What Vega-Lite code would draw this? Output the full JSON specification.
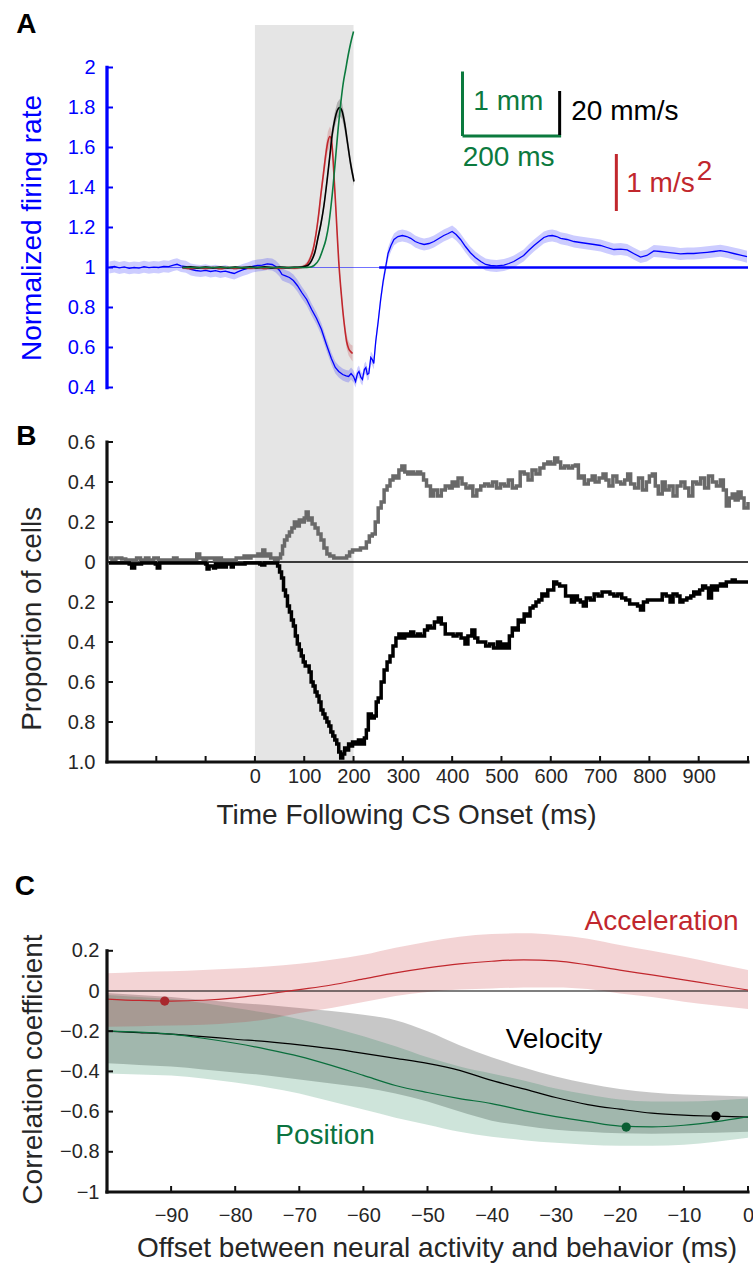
{
  "$schema": "https://vega.github.io/schema/vega-lite/v6.json",
  "width": 641,
  "height": 1167,
  "autosize": {"type": "none"},
  "padding": {"left": 107, "top": 25, "right": 5, "bottom": 72},
  "background": "white",
  "config": {
    "view": {"stroke": null},
    "font": "Liberation Sans",
    "axis": {
      "grid": false, "domain": false, "tickSize": 0,
      "labelFont": "Liberation Sans", "labelFontSize": 20, "labelColor": "#262626",
      "titleFont": "Liberation Sans", "titleFontSize": 28, "titleFontWeight": "normal",
      "titleColor": "#262626", "titleAlign": "center", "titleBaseline": "alphabetic"
    }
  },
  "datasets": {
    "firingRate": [
      {"t":-295,"v":1.000,"lo":0.970,"hi":1.030},{"t":-285,"v":1.005,"lo":0.975,"hi":1.035},{"t":-275,"v":0.998,"lo":0.968,"hi":1.028},
      {"t":-265,"v":1.003,"lo":0.973,"hi":1.033},{"t":-255,"v":0.996,"lo":0.966,"hi":1.026},{"t":-245,"v":1.000,"lo":0.970,"hi":1.030},
      {"t":-235,"v":0.997,"lo":0.967,"hi":1.027},{"t":-225,"v":1.004,"lo":0.974,"hi":1.034},{"t":-215,"v":0.999,"lo":0.969,"hi":1.029},
      {"t":-205,"v":1.002,"lo":0.972,"hi":1.032},{"t":-195,"v":1.000,"lo":0.970,"hi":1.030},{"t":-185,"v":1.006,"lo":0.976,"hi":1.036},
      {"t":-175,"v":1.004,"lo":0.974,"hi":1.034},{"t":-165,"v":1.012,"lo":0.982,"hi":1.042},{"t":-158,"v":1.016,"lo":0.986,"hi":1.046},
      {"t":-150,"v":1.008,"lo":0.978,"hi":1.038},{"t":-140,"v":1.004,"lo":0.974,"hi":1.034},{"t":-130,"v":0.990,"lo":0.960,"hi":1.020},
      {"t":-120,"v":0.985,"lo":0.955,"hi":1.015},{"t":-110,"v":0.982,"lo":0.952,"hi":1.012},{"t":-100,"v":0.986,"lo":0.956,"hi":1.016},
      {"t":-90,"v":0.980,"lo":0.950,"hi":1.010},{"t":-80,"v":0.984,"lo":0.954,"hi":1.014},{"t":-70,"v":0.978,"lo":0.948,"hi":1.008},
      {"t":-60,"v":0.982,"lo":0.952,"hi":1.012},{"t":-50,"v":0.975,"lo":0.945,"hi":1.005},{"t":-42,"v":0.970,"lo":0.940,"hi":1.000},
      {"t":-35,"v":0.978,"lo":0.948,"hi":1.008},{"t":-25,"v":0.988,"lo":0.958,"hi":1.018},{"t":-15,"v":0.995,"lo":0.965,"hi":1.025},
      {"t":-5,"v":1.005,"lo":0.975,"hi":1.035},{"t":5,"v":1.010,"lo":0.980,"hi":1.040},{"t":15,"v":1.012,"lo":0.982,"hi":1.042},
      {"t":25,"v":1.018,"lo":0.988,"hi":1.048},{"t":35,"v":1.015,"lo":0.985,"hi":1.045},{"t":42,"v":1.005,"lo":0.975,"hi":1.035},
      {"t":50,"v":0.985,"lo":0.955,"hi":1.015},{"t":55,"v":0.965,"lo":0.935,"hi":0.995},{"t":62,"v":0.958,"lo":0.928,"hi":0.988},
      {"t":70,"v":0.950,"lo":0.920,"hi":0.980},{"t":78,"v":0.935,"lo":0.905,"hi":0.965},{"t":86,"v":0.910,"lo":0.880,"hi":0.940},
      {"t":95,"v":0.875,"lo":0.845,"hi":0.905},{"t":105,"v":0.840,"lo":0.810,"hi":0.870},{"t":115,"v":0.790,"lo":0.760,"hi":0.820},
      {"t":125,"v":0.745,"lo":0.715,"hi":0.775},{"t":135,"v":0.690,"lo":0.660,"hi":0.720},{"t":145,"v":0.615,"lo":0.585,"hi":0.645},
      {"t":155,"v":0.545,"lo":0.515,"hi":0.575},{"t":163,"v":0.500,"lo":0.470,"hi":0.530},{"t":170,"v":0.480,"lo":0.450,"hi":0.510},
      {"t":178,"v":0.465,"lo":0.435,"hi":0.495},{"t":185,"v":0.458,"lo":0.428,"hi":0.488},{"t":190,"v":0.455,"lo":0.425,"hi":0.485},
      {"t":195,"v":0.470,"lo":0.440,"hi":0.500},{"t":200,"v":0.455,"lo":0.425,"hi":0.485},{"t":204,"v":0.430,"lo":0.400,"hi":0.460},
      {"t":208,"v":0.470,"lo":0.440,"hi":0.500},{"t":211,"v":0.480,"lo":0.450,"hi":0.510},{"t":215,"v":0.450,"lo":0.420,"hi":0.480},
      {"t":218,"v":0.440,"lo":0.410,"hi":0.470},{"t":222,"v":0.490,"lo":0.460,"hi":0.520},{"t":225,"v":0.500,"lo":0.470,"hi":0.530},
      {"t":228,"v":0.465,"lo":0.435,"hi":0.495},{"t":231,"v":0.470,"lo":0.440,"hi":0.500},{"t":235,"v":0.550,"lo":0.520,"hi":0.580},
      {"t":238,"v":0.540,"lo":0.510,"hi":0.570},{"t":241,"v":0.520,"lo":0.490,"hi":0.550},{"t":245,"v":0.630,"lo":0.600,"hi":0.660},
      {"t":250,"v":0.730,"lo":0.700,"hi":0.760},{"t":255,"v":0.840,"lo":0.810,"hi":0.870},{"t":260,"v":0.930,"lo":0.900,"hi":0.960},
      {"t":265,"v":1.000,"lo":0.970,"hi":1.030},{"t":270,"v":1.070,"lo":1.040,"hi":1.100},{"t":276,"v":1.110,"lo":1.080,"hi":1.140},
      {"t":282,"v":1.140,"lo":1.110,"hi":1.170},{"t":290,"v":1.155,"lo":1.125,"hi":1.185},{"t":299,"v":1.160,"lo":1.130,"hi":1.190},
      {"t":308,"v":1.155,"lo":1.125,"hi":1.185},{"t":316,"v":1.146,"lo":1.116,"hi":1.176},{"t":325,"v":1.130,"lo":1.100,"hi":1.160},
      {"t":335,"v":1.120,"lo":1.090,"hi":1.150},{"t":343,"v":1.115,"lo":1.085,"hi":1.145},{"t":353,"v":1.120,"lo":1.090,"hi":1.150},
      {"t":363,"v":1.130,"lo":1.100,"hi":1.160},{"t":373,"v":1.145,"lo":1.115,"hi":1.175},{"t":383,"v":1.160,"lo":1.130,"hi":1.190},
      {"t":392,"v":1.170,"lo":1.140,"hi":1.200},{"t":400,"v":1.180,"lo":1.150,"hi":1.210},{"t":408,"v":1.165,"lo":1.135,"hi":1.195},
      {"t":417,"v":1.140,"lo":1.110,"hi":1.170},{"t":427,"v":1.105,"lo":1.075,"hi":1.135},{"t":437,"v":1.074,"lo":1.044,"hi":1.104},
      {"t":447,"v":1.050,"lo":1.020,"hi":1.080},{"t":458,"v":1.030,"lo":1.000,"hi":1.060},{"t":468,"v":1.015,"lo":0.985,"hi":1.045},
      {"t":478,"v":1.010,"lo":0.980,"hi":1.040},{"t":490,"v":1.008,"lo":0.978,"hi":1.038},{"t":505,"v":1.012,"lo":0.982,"hi":1.042},
      {"t":515,"v":1.020,"lo":0.990,"hi":1.050},{"t":525,"v":1.030,"lo":1.000,"hi":1.060},{"t":535,"v":1.045,"lo":1.015,"hi":1.075},
      {"t":545,"v":1.060,"lo":1.030,"hi":1.090},{"t":555,"v":1.085,"lo":1.055,"hi":1.115},{"t":566,"v":1.110,"lo":1.080,"hi":1.140},
      {"t":576,"v":1.130,"lo":1.100,"hi":1.160},{"t":586,"v":1.150,"lo":1.120,"hi":1.180},{"t":595,"v":1.158,"lo":1.128,"hi":1.188},
      {"t":603,"v":1.160,"lo":1.130,"hi":1.190},{"t":612,"v":1.155,"lo":1.125,"hi":1.185},{"t":620,"v":1.146,"lo":1.116,"hi":1.176},
      {"t":633,"v":1.140,"lo":1.110,"hi":1.170},{"t":647,"v":1.130,"lo":1.100,"hi":1.160},{"t":660,"v":1.125,"lo":1.095,"hi":1.155},
      {"t":674,"v":1.120,"lo":1.090,"hi":1.150},{"t":688,"v":1.115,"lo":1.085,"hi":1.145},{"t":701,"v":1.110,"lo":1.080,"hi":1.140},
      {"t":714,"v":1.100,"lo":1.070,"hi":1.130},{"t":728,"v":1.090,"lo":1.060,"hi":1.120},{"t":742,"v":1.092,"lo":1.062,"hi":1.122},
      {"t":755,"v":1.088,"lo":1.058,"hi":1.118},{"t":768,"v":1.070,"lo":1.040,"hi":1.100},{"t":782,"v":1.052,"lo":1.022,"hi":1.082},
      {"t":795,"v":1.060,"lo":1.030,"hi":1.090},{"t":809,"v":1.083,"lo":1.053,"hi":1.113},{"t":822,"v":1.080,"lo":1.050,"hi":1.110},
      {"t":836,"v":1.076,"lo":1.046,"hi":1.106},{"t":850,"v":1.072,"lo":1.042,"hi":1.102},{"t":863,"v":1.068,"lo":1.038,"hi":1.098},
      {"t":877,"v":1.070,"lo":1.040,"hi":1.100},{"t":890,"v":1.070,"lo":1.040,"hi":1.100},{"t":904,"v":1.073,"lo":1.043,"hi":1.103},
      {"t":917,"v":1.076,"lo":1.046,"hi":1.106},{"t":931,"v":1.080,"lo":1.050,"hi":1.110},{"t":944,"v":1.084,"lo":1.054,"hi":1.114},
      {"t":958,"v":1.078,"lo":1.048,"hi":1.108},{"t":971,"v":1.070,"lo":1.040,"hi":1.100},{"t":985,"v":1.062,"lo":1.032,"hi":1.092},
      {"t":998,"v":1.054,"lo":1.024,"hi":1.084}
    ],
    "kinematics": [
      {"series":"acceleration","t":-147,"v":1.000,"lo":0.992,"hi":1.008},{"series":"acceleration","t":-130,"v":0.994,"lo":0.986,"hi":1.002},
      {"series":"acceleration","t":-115,"v":1.000,"lo":0.992,"hi":1.008},{"series":"acceleration","t":-100,"v":0.995,"lo":0.987,"hi":1.003},
      {"series":"acceleration","t":-85,"v":1.000,"lo":0.992,"hi":1.008},{"series":"acceleration","t":-70,"v":0.994,"lo":0.986,"hi":1.002},
      {"series":"acceleration","t":-55,"v":1.000,"lo":0.992,"hi":1.008},{"series":"acceleration","t":-40,"v":0.995,"lo":0.987,"hi":1.003},
      {"series":"acceleration","t":-25,"v":1.000,"lo":0.992,"hi":1.008},{"series":"acceleration","t":-10,"v":0.996,"lo":0.988,"hi":1.004},
      {"series":"acceleration","t":5,"v":1.000,"lo":0.992,"hi":1.008},{"series":"acceleration","t":20,"v":0.995,"lo":0.987,"hi":1.003},
      {"series":"acceleration","t":35,"v":1.000,"lo":0.992,"hi":1.008},{"series":"acceleration","t":50,"v":0.996,"lo":0.988,"hi":1.004},
      {"series":"acceleration","t":65,"v":1.000,"lo":0.992,"hi":1.008},{"series":"acceleration","t":80,"v":0.997,"lo":0.989,"hi":1.005},
      {"series":"acceleration","t":92,"v":1.000,"lo":0.992,"hi":1.008},{"series":"acceleration","t":100,"v":1.006,"lo":0.996,"hi":1.016},
      {"series":"acceleration","t":106,"v":1.018,"lo":1.006,"hi":1.030},{"series":"acceleration","t":112,"v":1.045,"lo":1.030,"hi":1.060},
      {"series":"acceleration","t":118,"v":1.090,"lo":1.070,"hi":1.110},{"series":"acceleration","t":124,"v":1.170,"lo":1.150,"hi":1.190},
      {"series":"acceleration","t":129,"v":1.260,"lo":1.235,"hi":1.285},{"series":"acceleration","t":134,"v":1.370,"lo":1.340,"hi":1.400},
      {"series":"acceleration","t":139,"v":1.470,"lo":1.435,"hi":1.505},{"series":"acceleration","t":144,"v":1.570,"lo":1.525,"hi":1.615},
      {"series":"acceleration","t":148,"v":1.630,"lo":1.580,"hi":1.680},{"series":"acceleration","t":152,"v":1.655,"lo":1.605,"hi":1.705},
      {"series":"acceleration","t":155,"v":1.640,"lo":1.590,"hi":1.690},{"series":"acceleration","t":158,"v":1.560,"lo":1.515,"hi":1.605},
      {"series":"acceleration","t":161,"v":1.430,"lo":1.395,"hi":1.465},{"series":"acceleration","t":164,"v":1.300,"lo":1.270,"hi":1.330},
      {"series":"acceleration","t":167,"v":1.160,"lo":1.135,"hi":1.185},{"series":"acceleration","t":170,"v":1.030,"lo":1.005,"hi":1.055},
      {"series":"acceleration","t":174,"v":0.900,"lo":0.875,"hi":0.925},{"series":"acceleration","t":178,"v":0.790,"lo":0.765,"hi":0.815},
      {"series":"acceleration","t":182,"v":0.700,"lo":0.670,"hi":0.730},{"series":"acceleration","t":186,"v":0.630,"lo":0.595,"hi":0.665},
      {"series":"acceleration","t":190,"v":0.595,"lo":0.560,"hi":0.630},{"series":"acceleration","t":194,"v":0.580,"lo":0.545,"hi":0.615},
      {"series":"acceleration","t":198,"v":0.570,"lo":0.530,"hi":0.610},
      {"series":"velocity","t":-147,"v":1.000,"lo":0.994,"hi":1.006},{"series":"velocity","t":-130,"v":1.003,"lo":0.997,"hi":1.009},
      {"series":"velocity","t":-115,"v":0.998,"lo":0.992,"hi":1.004},{"series":"velocity","t":-100,"v":1.002,"lo":0.996,"hi":1.008},
      {"series":"velocity","t":-85,"v":0.998,"lo":0.992,"hi":1.004},{"series":"velocity","t":-70,"v":1.002,"lo":0.996,"hi":1.008},
      {"series":"velocity","t":-55,"v":0.998,"lo":0.992,"hi":1.004},{"series":"velocity","t":-40,"v":1.002,"lo":0.996,"hi":1.008},
      {"series":"velocity","t":-25,"v":0.998,"lo":0.992,"hi":1.004},{"series":"velocity","t":-10,"v":1.003,"lo":0.997,"hi":1.009},
      {"series":"velocity","t":5,"v":0.999,"lo":0.993,"hi":1.005},{"series":"velocity","t":20,"v":1.003,"lo":0.997,"hi":1.009},
      {"series":"velocity","t":35,"v":0.998,"lo":0.992,"hi":1.004},{"series":"velocity","t":50,"v":1.002,"lo":0.996,"hi":1.008},
      {"series":"velocity","t":65,"v":0.999,"lo":0.993,"hi":1.005},{"series":"velocity","t":80,"v":1.001,"lo":0.995,"hi":1.007},
      {"series":"velocity","t":95,"v":1.002,"lo":0.996,"hi":1.008},{"series":"velocity","t":102,"v":1.006,"lo":0.998,"hi":1.014},
      {"series":"velocity","t":108,"v":1.012,"lo":1.002,"hi":1.022},{"series":"velocity","t":115,"v":1.035,"lo":1.022,"hi":1.048},
      {"series":"velocity","t":122,"v":1.080,"lo":1.065,"hi":1.095},{"series":"velocity","t":128,"v":1.150,"lo":1.133,"hi":1.167},
      {"series":"velocity","t":134,"v":1.220,"lo":1.200,"hi":1.240},{"series":"velocity","t":140,"v":1.310,"lo":1.288,"hi":1.332},
      {"series":"velocity","t":147,"v":1.450,"lo":1.425,"hi":1.475},{"series":"velocity","t":152,"v":1.560,"lo":1.532,"hi":1.588},
      {"series":"velocity","t":157,"v":1.670,"lo":1.638,"hi":1.702},{"series":"velocity","t":162,"v":1.740,"lo":1.703,"hi":1.777},
      {"series":"velocity","t":167,"v":1.785,"lo":1.745,"hi":1.825},{"series":"velocity","t":172,"v":1.800,"lo":1.758,"hi":1.842},
      {"series":"velocity","t":177,"v":1.780,"lo":1.740,"hi":1.820},{"series":"velocity","t":182,"v":1.720,"lo":1.682,"hi":1.758},
      {"series":"velocity","t":188,"v":1.620,"lo":1.588,"hi":1.652},{"series":"velocity","t":194,"v":1.520,"lo":1.492,"hi":1.548},
      {"series":"velocity","t":201,"v":1.430,"lo":1.405,"hi":1.455},
      {"series":"position","t":-147,"v":1.000,"lo":0.996,"hi":1.004},{"series":"position","t":-100,"v":1.000,"lo":0.996,"hi":1.004},
      {"series":"position","t":-50,"v":1.000,"lo":0.996,"hi":1.004},{"series":"position","t":0,"v":1.000,"lo":0.996,"hi":1.004},
      {"series":"position","t":50,"v":1.000,"lo":0.996,"hi":1.004},{"series":"position","t":100,"v":1.000,"lo":0.996,"hi":1.004},
      {"series":"position","t":110,"v":1.001,"lo":0.997,"hi":1.005},{"series":"position","t":120,"v":1.010,"lo":1.006,"hi":1.014},
      {"series":"position","t":130,"v":1.040,"lo":1.036,"hi":1.044},{"series":"position","t":137,"v":1.085,"lo":1.081,"hi":1.089},
      {"series":"position","t":144,"v":1.140,"lo":1.136,"hi":1.144},{"series":"position","t":150,"v":1.220,"lo":1.216,"hi":1.224},
      {"series":"position","t":154,"v":1.300,"lo":1.296,"hi":1.304},{"series":"position","t":159,"v":1.420,"lo":1.416,"hi":1.424},
      {"series":"position","t":164,"v":1.560,"lo":1.556,"hi":1.564},{"series":"position","t":169,"v":1.700,"lo":1.696,"hi":1.704},
      {"series":"position","t":174,"v":1.820,"lo":1.816,"hi":1.824},{"series":"position","t":179,"v":1.920,"lo":1.916,"hi":1.924},
      {"series":"position","t":184,"v":1.990,"lo":1.986,"hi":1.994},{"series":"position","t":189,"v":2.060,"lo":2.056,"hi":2.064},
      {"series":"position","t":194,"v":2.120,"lo":2.116,"hi":2.124},{"series":"position","t":200,"v":2.180,"lo":2.176,"hi":2.184}
    ],
    "scaleBars": [
      {"series":"position","t":421,"t2":421,"v":1.6575,"v2":1.98},
      {"series":"time","t":421,"t2":621,"v":1.6575,"v2":1.6575},
      {"series":"velocity","t":618,"t2":618,"v":1.6625,"v2":1.8825},
      {"series":"acceleration","t":733,"t2":733,"v":1.2825,"v2":1.5675}
    ],
    "scaleLabels": [
      {"label":"1 mm","series":"position","t":443,"v":1.7875},
      {"label":"20 mm/s","series":"velocity","t":641.5,"v":1.7375},
      {"label":"200 ms","series":"time","t":421.3,"v":1.509},
      {"label":"1 m/s","series":"acceleration","t":753,"v":1.379},
      {"label":"2","series":"acceleration","t":896,"v":1.4375}
    ],
    "positiveCells": [
      {"t":-296,"v":0.02},{"t":-290,"v":0.01},{"t":-282,"v":0.02},{"t":-270,"v":0.015},{"t":-262,"v":0.01},{"t":-250,"v":0.01},
      {"t":-240,"v":0.02},{"t":-232,"v":0.01},{"t":-222,"v":0.02},{"t":-215,"v":0.01},{"t":-205,"v":0.02},{"t":-196,"v":0.01},
      {"t":-185,"v":0.01},{"t":-175,"v":0.01},{"t":-165,"v":0.02},{"t":-158,"v":0.01},{"t":-140,"v":0.01},{"t":-125,"v":0.01},
      {"t":-118,"v":0.04},{"t":-112,"v":0.02},{"t":-105,"v":0.01},{"t":-98,"v":0.02},{"t":-90,"v":0.02},{"t":-82,"v":0.01},
      {"t":-75,"v":0.02},{"t":-68,"v":0.01},{"t":-55,"v":0.01},{"t":-45,"v":0.01},{"t":-38,"v":0.02},{"t":-30,"v":0.02},
      {"t":-22,"v":0.03},{"t":-15,"v":0.02},{"t":-8,"v":0.03},{"t":0,"v":0.03},{"t":6,"v":0.04},{"t":12,"v":0.03},
      {"t":16,"v":0.06},{"t":20,"v":0.03},{"t":26,"v":0.04},{"t":32,"v":0.02},{"t":40,"v":0.01},{"t":47,"v":0.02},
      {"t":52,"v":0.04},{"t":56,"v":0.08},{"t":60,"v":0.11},{"t":65,"v":0.13},{"t":70,"v":0.15},{"t":75,"v":0.17},
      {"t":80,"v":0.2},{"t":85,"v":0.18},{"t":90,"v":0.21},{"t":95,"v":0.2},{"t":100,"v":0.22},{"t":104,"v":0.25},
      {"t":108,"v":0.21},{"t":112,"v":0.22},{"t":116,"v":0.19},{"t":122,"v":0.17},{"t":128,"v":0.14},{"t":134,"v":0.11},
      {"t":140,"v":0.07},{"t":146,"v":0.04},{"t":152,"v":0.03},{"t":160,"v":0.02},{"t":170,"v":0.02},{"t":180,"v":0.02},
      {"t":186,"v":0.03},{"t":192,"v":0.05},{"t":198,"v":0.06},{"t":206,"v":0.06},{"t":214,"v":0.07},{"t":220,"v":0.07},
      {"t":226,"v":0.1},{"t":232,"v":0.13},{"t":238,"v":0.14},{"t":244,"v":0.2},{"t":250,"v":0.27},{"t":256,"v":0.3},
      {"t":262,"v":0.36},{"t":268,"v":0.38},{"t":274,"v":0.41},{"t":280,"v":0.43},{"t":286,"v":0.42},{"t":292,"v":0.46},
      {"t":298,"v":0.48},{"t":304,"v":0.45},{"t":310,"v":0.44},{"t":316,"v":0.45},{"t":322,"v":0.44},{"t":330,"v":0.45},
      {"t":336,"v":0.44},{"t":342,"v":0.41},{"t":348,"v":0.38},{"t":356,"v":0.33},{"t":362,"v":0.36},{"t":370,"v":0.33},
      {"t":378,"v":0.36},{"t":386,"v":0.38},{"t":394,"v":0.37},{"t":400,"v":0.40},{"t":406,"v":0.38},{"t":412,"v":0.42},
      {"t":420,"v":0.39},{"t":428,"v":0.37},{"t":436,"v":0.38},{"t":442,"v":0.33},{"t":450,"v":0.36},{"t":458,"v":0.38},
      {"t":466,"v":0.39},{"t":474,"v":0.38},{"t":482,"v":0.40},{"t":490,"v":0.37},{"t":498,"v":0.39},{"t":506,"v":0.38},
      {"t":514,"v":0.41},{"t":522,"v":0.37},{"t":530,"v":0.38},{"t":538,"v":0.45},{"t":546,"v":0.44},{"t":554,"v":0.41},
      {"t":562,"v":0.46},{"t":570,"v":0.44},{"t":578,"v":0.47},{"t":586,"v":0.49},{"t":594,"v":0.50},{"t":600,"v":0.49},
      {"t":608,"v":0.52},{"t":614,"v":0.5},{"t":620,"v":0.47},{"t":628,"v":0.48},{"t":636,"v":0.47},{"t":644,"v":0.48},
      {"t":650,"v":0.485},{"t":656,"v":0.42},{"t":662,"v":0.43},{"t":668,"v":0.39},{"t":676,"v":0.41},{"t":684,"v":0.43},
      {"t":690,"v":0.40},{"t":698,"v":0.42},{"t":706,"v":0.44},{"t":712,"v":0.41},{"t":718,"v":0.38},{"t":726,"v":0.43},
      {"t":734,"v":0.40},{"t":742,"v":0.39},{"t":750,"v":0.41},{"t":756,"v":0.44},{"t":762,"v":0.39},{"t":770,"v":0.37},
      {"t":778,"v":0.42},{"t":786,"v":0.36},{"t":794,"v":0.40},{"t":800,"v":0.43},{"t":806,"v":0.44},{"t":812,"v":0.38},
      {"t":818,"v":0.34},{"t":826,"v":0.40},{"t":832,"v":0.36},{"t":840,"v":0.38},{"t":848,"v":0.33},{"t":856,"v":0.38},
      {"t":864,"v":0.40},{"t":872,"v":0.37},{"t":880,"v":0.33},{"t":888,"v":0.40},{"t":896,"v":0.39},{"t":904,"v":0.42},
      {"t":912,"v":0.37},{"t":920,"v":0.43},{"t":928,"v":0.40},{"t":936,"v":0.38},{"t":944,"v":0.41},{"t":950,"v":0.36},
      {"t":956,"v":0.28},{"t":962,"v":0.32},{"t":968,"v":0.34},{"t":974,"v":0.31},{"t":980,"v":0.35},{"t":986,"v":0.32},
      {"t":992,"v":0.27},{"t":1000,"v":0.30}
    ],
    "negativeCells": [
      {"t":-296,"v":-0.005},{"t":-270,"v":-0.005},{"t":-255,"v":-0.01},{"t":-250,"v":-0.03},{"t":-244,"v":-0.01},{"t":-230,"v":-0.005},
      {"t":-202,"v":-0.01},{"t":-198,"v":-0.03},{"t":-193,"v":-0.005},{"t":-160,"v":-0.005},{"t":-100,"v":-0.01},{"t":-97,"v":-0.035},
      {"t":-93,"v":-0.02},{"t":-88,"v":-0.02},{"t":-84,"v":-0.03},{"t":-80,"v":-0.01},{"t":-75,"v":-0.025},{"t":-70,"v":-0.01},
      {"t":-63,"v":-0.025},{"t":-58,"v":-0.01},{"t":-48,"v":-0.025},{"t":-44,"v":-0.01},{"t":-20,"v":-0.005},{"t":10,"v":-0.01},
      {"t":14,"v":-0.015},{"t":20,"v":-0.005},{"t":40,"v":-0.005},{"t":46,"v":-0.02},{"t":50,"v":-0.05},{"t":54,"v":-0.08},
      {"t":58,"v":-0.14},{"t":62,"v":-0.17},{"t":66,"v":-0.22},{"t":70,"v":-0.25},{"t":74,"v":-0.29},{"t":78,"v":-0.32},
      {"t":82,"v":-0.37},{"t":86,"v":-0.41},{"t":90,"v":-0.44},{"t":94,"v":-0.47},{"t":98,"v":-0.5},{"t":102,"v":-0.52},
      {"t":106,"v":-0.52},{"t":110,"v":-0.55},{"t":114,"v":-0.6},{"t":118,"v":-0.62},{"t":122,"v":-0.65},{"t":126,"v":-0.67},
      {"t":130,"v":-0.7},{"t":134,"v":-0.74},{"t":138,"v":-0.76},{"t":142,"v":-0.78},{"t":146,"v":-0.8},{"t":150,"v":-0.82},
      {"t":154,"v":-0.85},{"t":158,"v":-0.87},{"t":162,"v":-0.89},{"t":166,"v":-0.91},{"t":170,"v":-0.95},{"t":174,"v":-0.98},
      {"t":178,"v":-0.96},{"t":182,"v":-0.93},{"t":186,"v":-0.94},{"t":190,"v":-0.91},{"t":194,"v":-0.92},{"t":198,"v":-0.9},
      {"t":204,"v":-0.91},{"t":210,"v":-0.89},{"t":216,"v":-0.91},{"t":222,"v":-0.88},{"t":226,"v":-0.84},{"t":230,"v":-0.76},
      {"t":236,"v":-0.78},{"t":242,"v":-0.77},{"t":246,"v":-0.7},{"t":250,"v":-0.68},{"t":256,"v":-0.6},{"t":262,"v":-0.54},
      {"t":268,"v":-0.5},{"t":274,"v":-0.47},{"t":280,"v":-0.42},{"t":286,"v":-0.38},{"t":292,"v":-0.36},{"t":298,"v":-0.38},
      {"t":304,"v":-0.36},{"t":310,"v":-0.37},{"t":316,"v":-0.35},{"t":322,"v":-0.37},{"t":330,"v":-0.36},{"t":336,"v":-0.37},
      {"t":344,"v":-0.34},{"t":350,"v":-0.32},{"t":356,"v":-0.33},{"t":364,"v":-0.3},{"t":372,"v":-0.28},{"t":378,"v":-0.31},
      {"t":386,"v":-0.36},{"t":394,"v":-0.36},{"t":402,"v":-0.37},{"t":410,"v":-0.36},{"t":418,"v":-0.38},{"t":426,"v":-0.41},
      {"t":432,"v":-0.37},{"t":440,"v":-0.34},{"t":446,"v":-0.38},{"t":452,"v":-0.4},{"t":460,"v":-0.4},{"t":468,"v":-0.42},
      {"t":476,"v":-0.41},{"t":484,"v":-0.43},{"t":492,"v":-0.4},{"t":498,"v":-0.43},{"t":504,"v":-0.41},{"t":510,"v":-0.43},
      {"t":516,"v":-0.37},{"t":522,"v":-0.33},{"t":528,"v":-0.34},{"t":534,"v":-0.29},{"t":540,"v":-0.3},{"t":546,"v":-0.26},
      {"t":552,"v":-0.27},{"t":558,"v":-0.23},{"t":564,"v":-0.22},{"t":570,"v":-0.2},{"t":576,"v":-0.19},{"t":582,"v":-0.16},
      {"t":588,"v":-0.17},{"t":594,"v":-0.14},{"t":600,"v":-0.14},{"t":606,"v":-0.1},{"t":612,"v":-0.11},{"t":618,"v":-0.12},
      {"t":624,"v":-0.12},{"t":630,"v":-0.17},{"t":636,"v":-0.17},{"t":642,"v":-0.2},{"t":648,"v":-0.17},{"t":654,"v":-0.19},
      {"t":660,"v":-0.2},{"t":666,"v":-0.22},{"t":672,"v":-0.18},{"t":680,"v":-0.19},{"t":688,"v":-0.16},{"t":696,"v":-0.17},
      {"t":704,"v":-0.15},{"t":712,"v":-0.15},{"t":720,"v":-0.16},{"t":728,"v":-0.17},{"t":736,"v":-0.16},{"t":744,"v":-0.18},
      {"t":752,"v":-0.19},{"t":760,"v":-0.21},{"t":768,"v":-0.21},{"t":776,"v":-0.22},{"t":782,"v":-0.24},{"t":788,"v":-0.2},
      {"t":796,"v":-0.19},{"t":804,"v":-0.19},{"t":812,"v":-0.19},{"t":820,"v":-0.19},{"t":826,"v":-0.16},{"t":834,"v":-0.17},
      {"t":842,"v":-0.2},{"t":848,"v":-0.16},{"t":856,"v":-0.17},{"t":862,"v":-0.2},{"t":868,"v":-0.19},{"t":876,"v":-0.18},
      {"t":884,"v":-0.17},{"t":890,"v":-0.15},{"t":896,"v":-0.16},{"t":902,"v":-0.14},{"t":908,"v":-0.12},{"t":914,"v":-0.13},
      {"t":920,"v":-0.18},{"t":926,"v":-0.12},{"t":932,"v":-0.14},{"t":938,"v":-0.12},{"t":944,"v":-0.11},{"t":950,"v":-0.12},
      {"t":956,"v":-0.1},{"t":962,"v":-0.1},{"t":968,"v":-0.09},{"t":974,"v":-0.1},{"t":980,"v":-0.1},{"t":1000,"v":-0.1}
    ],
    "correlation": [
      {"o":-100,"acc":-0.04,"accLo":-0.178,"accHi":0.088,"vel":-0.2,"velLo":-0.36,"velHi":-0.01,"pos":-0.2,"posLo":-0.41,"posHi":-0.02},
      {"o":-95,"acc":-0.047,"accLo":-0.175,"accHi":0.095,"vel":-0.207,"velLo":-0.368,"velHi":-0.02,"pos":-0.205,"posLo":-0.415,"posHi":-0.03},
      {"o":-90,"acc":-0.05,"accLo":-0.172,"accHi":0.098,"vel":-0.215,"velLo":-0.376,"velHi":-0.03,"pos":-0.215,"posLo":-0.42,"posHi":-0.04},
      {"o":-85,"acc":-0.046,"accLo":-0.168,"accHi":0.105,"vel":-0.227,"velLo":-0.39,"velHi":-0.045,"pos":-0.235,"posLo":-0.435,"posHi":-0.06},
      {"o":-80,"acc":-0.034,"accLo":-0.158,"accHi":0.112,"vel":-0.24,"velLo":-0.405,"velHi":-0.058,"pos":-0.26,"posLo":-0.455,"posHi":-0.085},
      {"o":-75,"acc":-0.015,"accLo":-0.14,"accHi":0.122,"vel":-0.252,"velLo":-0.42,"velHi":-0.07,"pos":-0.29,"posLo":-0.48,"posHi":-0.11},
      {"o":-70,"acc":0.007,"accLo":-0.11,"accHi":0.135,"vel":-0.268,"velLo":-0.44,"velHi":-0.085,"pos":-0.325,"posLo":-0.51,"posHi":-0.14},
      {"o":-65,"acc":0.03,"accLo":-0.085,"accHi":0.155,"vel":-0.287,"velLo":-0.46,"velHi":-0.1,"pos":-0.37,"posLo":-0.55,"posHi":-0.18},
      {"o":-60,"acc":0.06,"accLo":-0.055,"accHi":0.18,"vel":-0.31,"velLo":-0.48,"velHi":-0.118,"pos":-0.42,"posLo":-0.59,"posHi":-0.225},
      {"o":-55,"acc":0.09,"accLo":-0.025,"accHi":0.215,"vel":-0.335,"velLo":-0.51,"velHi":-0.145,"pos":-0.47,"posLo":-0.63,"posHi":-0.275},
      {"o":-50,"acc":0.115,"accLo":-0.005,"accHi":0.245,"vel":-0.36,"velLo":-0.55,"velHi":-0.2,"pos":-0.505,"posLo":-0.665,"posHi":-0.33},
      {"o":-45,"acc":0.135,"accLo":0.008,"accHi":0.27,"vel":-0.395,"velLo":-0.6,"velHi":-0.27,"pos":-0.535,"posLo":-0.7,"posHi":-0.375},
      {"o":-40,"acc":0.148,"accLo":0.013,"accHi":0.283,"vel":-0.445,"velLo":-0.645,"velHi":-0.33,"pos":-0.56,"posLo":-0.725,"posHi":-0.41},
      {"o":-35,"acc":0.155,"accLo":0.017,"accHi":0.287,"vel":-0.487,"velLo":-0.67,"velHi":-0.38,"pos":-0.595,"posLo":-0.742,"posHi":-0.445},
      {"o":-30,"acc":0.15,"accLo":0.018,"accHi":0.279,"vel":-0.53,"velLo":-0.69,"velHi":-0.425,"pos":-0.625,"posLo":-0.755,"posHi":-0.485},
      {"o":-25,"acc":0.13,"accLo":0.01,"accHi":0.26,"vel":-0.565,"velLo":-0.7,"velHi":-0.46,"pos":-0.65,"posLo":-0.765,"posHi":-0.515},
      {"o":-20,"acc":0.104,"accLo":-0.012,"accHi":0.229,"vel":-0.588,"velLo":-0.708,"velHi":-0.488,"pos":-0.672,"posLo":-0.77,"posHi":-0.54},
      {"o":-15,"acc":0.08,"accLo":-0.03,"accHi":0.2,"vel":-0.608,"velLo":-0.71,"velHi":-0.505,"pos":-0.676,"posLo":-0.77,"posHi":-0.55},
      {"o":-10,"acc":0.055,"accLo":-0.053,"accHi":0.17,"vel":-0.618,"velLo":-0.708,"velHi":-0.515,"pos":-0.668,"posLo":-0.765,"posHi":-0.55},
      {"o":-5,"acc":0.03,"accLo":-0.072,"accHi":0.137,"vel":-0.623,"velLo":-0.705,"velHi":-0.52,"pos":-0.65,"posLo":-0.75,"posHi":-0.545},
      {"o":0,"acc":0.005,"accLo":-0.09,"accHi":0.104,"vel":-0.627,"velLo":-0.7,"velHi":-0.525,"pos":-0.625,"posLo":-0.73,"posHi":-0.535}
    ],
    "peaks": [
      {"series":"acceleration","o":-91,"r":-0.05},
      {"series":"position","o":-19,"r":-0.677},
      {"series":"velocity","o":-5,"r":-0.622}
    ],
    "seriesLabels": [
      {"label":"Acceleration","series":"acceleration","o":-25.5,"r":0.3035},
      {"label":"Velocity","series":"velocity","o":-37.8,"r":-0.285},
      {"label":"Position","series":"position","o":-73.75,"r":-0.761}
    ]
  },
  "resolve": {
    "scale": {"x": "independent", "y": "independent", "color": "independent"},
    "axis": {"x": "independent", "y": "independent"}
  },
  "layer": [
    {
      "data": {"values": [{"start": 0, "end": 200}]},
      "mark": {"type": "rect", "color": "#e5e5e5"},
      "encoding": {
        "x": {"field": "start", "type": "quantitative", "scale": {"domain": [-300, 1000], "nice": false, "zero": false},
          "axis": {"orient": "bottom", "offset": -430, "title": "Time Following CS Onset (ms)",
            "values": [0, 100, 200, 300, 400, 500, 600, 700, 800, 900],
            "labelExpr": "format(datum.value, 'd')", "labelPadding": 4, "labelAlign": "center", "labelBaseline": "top",
            "titleAngle": 0, "titleX": 299, "titleY": 61}},
        "x2": {"field": "end"},
        "y": {"datum": -1, "type": "quantitative", "scale": {"domain": [-3.15, 2.685], "nice": false, "zero": false},
          "axis": {"orient": "left", "title": "Proportion of cells",
            "values": [0.6, 0.4, 0.2, 0, -0.2, -0.4, -0.6, -0.8, -1],
            "labelExpr": "datum.value == 0 ? '0' : format(abs(datum.value), '.1f')",
            "labelPadding": 12, "labelAlign": "right", "labelBaseline": "middle",
            "titleAngle": 270, "titleX": -67, "titleY": 593.3}},
        "y2": {"datum": 2.685}
      }
    },
    {
      "data": {"values": [{}]},
      "mark": {"type": "rule", "color": "#000000", "strokeWidth": 1.3},
      "encoding": {
        "x": {"datum": -300, "type": "quantitative", "scale": {"domain": [-300, 1000], "nice": false, "zero": false}, "axis": null},
        "x2": {"datum": 1000},
        "y": {"datum": 0, "type": "quantitative", "scale": {"domain": [-3.15, 2.685], "nice": false, "zero": false}, "axis": null}
      }
    },
    {
      "data": {"name": "positiveCells"},
      "mark": {"type": "line", "color": "#696969", "strokeWidth": 3.5, "interpolate": "step-after"},
      "encoding": {
        "x": {"field": "t", "type": "quantitative", "scale": {"domain": [-300, 1000], "nice": false, "zero": false}, "axis": null},
        "y": {"field": "v", "type": "quantitative", "scale": {"domain": [-3.15, 2.685], "nice": false, "zero": false}, "axis": null}
      }
    },
    {
      "data": {"name": "negativeCells"},
      "mark": {"type": "line", "color": "#000000", "strokeWidth": 3.5, "interpolate": "step-after"},
      "encoding": {
        "x": {"field": "t", "type": "quantitative", "scale": {"domain": [-300, 1000], "nice": false, "zero": false}, "axis": null},
        "y": {"field": "v", "type": "quantitative", "scale": {"domain": [-3.15, 2.685], "nice": false, "zero": false}, "axis": null}
      }
    },
    {
      "data": {"values": [{}]},
      "mark": {"type": "rule", "color": "#111111", "strokeWidth": 3.2, "strokeCap": "square"},
      "encoding": {
        "x": {"datum": -300, "type": "quantitative", "scale": {"domain": [-300, 1000], "nice": false, "zero": false}, "axis": null},
        "y": {"datum": -1, "type": "quantitative", "scale": {"domain": [-3.15, 2.685], "nice": false, "zero": false}, "axis": null},
        "y2": {"datum": 0.6}
      }
    },
    {
      "data": {"values": [{}]},
      "mark": {"type": "rule", "color": "#111111", "strokeWidth": 3.2, "strokeCap": "square"},
      "encoding": {
        "x": {"datum": -300, "type": "quantitative", "scale": {"domain": [-300, 1000], "nice": false, "zero": false}, "axis": null},
        "x2": {"datum": 1000},
        "y": {"datum": -1, "type": "quantitative", "scale": {"domain": [-3.15, 2.685], "nice": false, "zero": false}, "axis": null}
      }
    },
    {
      "data": {"values": [{"v": 0.6}, {"v": 0.4}, {"v": 0.2}, {"v": -0.2}, {"v": -0.4}, {"v": -0.6}, {"v": -0.8}]},
      "mark": {"type": "tick", "orient": "horizontal", "color": "#111111", "thickness": 2, "xOffset": 3, "opacity": 1},
      "encoding": {
        "x": {"datum": -300, "type": "quantitative", "scale": {"domain": [-300, 1000], "nice": false, "zero": false}, "axis": null},
        "y": {"field": "v", "type": "quantitative", "scale": {"domain": [-3.15, 2.685], "nice": false, "zero": false}, "axis": null},
        "size": {"value": 6}
      }
    },
    {
      "data": {"values": [{"t": -200}, {"t": -100}, {"t": 0}, {"t": 100}, {"t": 200}, {"t": 300}, {"t": 400}, {"t": 500}, {"t": 600}, {"t": 700}, {"t": 800}, {"t": 900}, {"t": 1000}]},
      "mark": {"type": "tick", "orient": "vertical", "color": "#111111", "thickness": 2, "yOffset": -3, "opacity": 1},
      "encoding": {
        "x": {"field": "t", "type": "quantitative", "scale": {"domain": [-300, 1000], "nice": false, "zero": false}, "axis": null},
        "y": {"datum": -1, "type": "quantitative", "scale": {"domain": [-3.15, 2.685], "nice": false, "zero": false}, "axis": null},
        "size": {"value": 6}
      }
    },
    {
      "data": {"values": [{"panel": "B", "t": -484, "v": 0.585}]},
      "mark": {"type": "text", "font": "Liberation Sans", "fontSize": 28, "fontWeight": "bold", "align": "left", "baseline": "alphabetic", "color": "#000000"},
      "encoding": {
        "x": {"field": "t", "type": "quantitative", "scale": {"domain": [-300, 1000], "nice": false, "zero": false}, "axis": null},
        "y": {"field": "v", "type": "quantitative", "scale": {"domain": [-3.15, 2.685], "nice": false, "zero": false}, "axis": null},
        "text": {"field": "panel"}
      }
    },
    {
      "data": {"name": "firingRate"},
      "mark": {"type": "area", "color": "#0000ff", "opacity": 0.2},
      "encoding": {
        "x": {"field": "t", "type": "quantitative", "scale": {"domain": [-300, 1000], "nice": false, "zero": false}, "axis": null},
        "y": {"field": "lo", "type": "quantitative", "scale": {"domain": [-3.6225, 2.2125], "nice": false, "zero": false},
          "axis": {"orient": "left", "title": "Normalized firing rate",
            "values": [0.4, 0.6, 0.8, 1, 1.2, 1.4, 1.6, 1.8, 2],
            "labelExpr": "format(datum.value, '~g')", "labelPadding": 12, "labelAlign": "right", "labelBaseline": "middle",
            "labelColor": "#0000ff", "titleColor": "#0000ff",
            "titleAngle": 270, "titleX": -67, "titleY": 202.5}},
        "y2": {"field": "hi"}
      }
    },
    {
      "data": {"values": [{}]},
      "mark": {"type": "rule", "color": "#0000ff", "strokeWidth": 1, "opacity": 0.55},
      "encoding": {
        "x": {"datum": -300, "type": "quantitative", "scale": {"domain": [-300, 1000], "nice": false, "zero": false}, "axis": null},
        "x2": {"datum": 1000},
        "y": {"datum": 1, "type": "quantitative", "scale": {"domain": [-3.6225, 2.2125], "nice": false, "zero": false}, "axis": null}
      }
    },
    {
      "data": {"values": [{}]},
      "mark": {"type": "rule", "color": "#0000ff", "strokeWidth": 2.6},
      "encoding": {
        "x": {"datum": 252, "type": "quantitative", "scale": {"domain": [-300, 1000], "nice": false, "zero": false}, "axis": null},
        "x2": {"datum": 1000},
        "y": {"datum": 1, "type": "quantitative", "scale": {"domain": [-3.6225, 2.2125], "nice": false, "zero": false}, "axis": null}
      }
    },
    {
      "data": {"name": "kinematics"},
      "mark": {"type": "area", "opacity": 0.22},
      "encoding": {
        "x": {"field": "t", "type": "quantitative", "scale": {"domain": [-300, 1000], "nice": false, "zero": false}, "axis": null},
        "y": {"field": "lo", "type": "quantitative", "scale": {"domain": [-3.6225, 2.2125], "nice": false, "zero": false}, "axis": null},
        "y2": {"field": "hi"},
        "color": {"field": "series", "type": "nominal", "legend": null,
          "scale": {"domain": ["acceleration", "velocity", "position", "time"], "range": ["#c1272d", "#000000", "#0b7a3e", "#0b7a3e"]}}
      }
    },
    {
      "data": {"name": "firingRate"},
      "mark": {"type": "line", "color": "#0000ff", "strokeWidth": 1.3},
      "encoding": {
        "x": {"field": "t", "type": "quantitative", "scale": {"domain": [-300, 1000], "nice": false, "zero": false}, "axis": null},
        "y": {"field": "v", "type": "quantitative", "scale": {"domain": [-3.6225, 2.2125], "nice": false, "zero": false}, "axis": null}
      }
    },
    {
      "data": {"name": "kinematics"},
      "mark": {"type": "line", "strokeWidth": 1.6, "interpolate": "monotone"},
      "encoding": {
        "x": {"field": "t", "type": "quantitative", "scale": {"domain": [-300, 1000], "nice": false, "zero": false}, "axis": null},
        "y": {"field": "v", "type": "quantitative", "scale": {"domain": [-3.6225, 2.2125], "nice": false, "zero": false}, "axis": null},
        "color": {"field": "series", "type": "nominal", "legend": null,
          "scale": {"domain": ["acceleration", "velocity", "position", "time"], "range": ["#c1272d", "#000000", "#0b7a3e", "#0b7a3e"]}}
      }
    },
    {
      "data": {"values": [{}]},
      "mark": {"type": "rule", "color": "#0000ff", "strokeWidth": 3.3, "strokeCap": "square"},
      "encoding": {
        "x": {"datum": -300, "type": "quantitative", "scale": {"domain": [-300, 1000], "nice": false, "zero": false}, "axis": null},
        "y": {"datum": 0.4, "type": "quantitative", "scale": {"domain": [-3.6225, 2.2125], "nice": false, "zero": false}, "axis": null},
        "y2": {"datum": 2}
      }
    },
    {
      "data": {"values": [{"v": 0.4}, {"v": 0.6}, {"v": 0.8}, {"v": 1}, {"v": 1.2}, {"v": 1.4}, {"v": 1.6}, {"v": 1.8}, {"v": 2}]},
      "mark": {"type": "tick", "orient": "horizontal", "color": "#0000ff", "thickness": 2, "xOffset": 3, "opacity": 1},
      "encoding": {
        "x": {"datum": -300, "type": "quantitative", "scale": {"domain": [-300, 1000], "nice": false, "zero": false}, "axis": null},
        "y": {"field": "v", "type": "quantitative", "scale": {"domain": [-3.6225, 2.2125], "nice": false, "zero": false}, "axis": null},
        "size": {"value": 6}
      }
    },
    {
      "data": {"name": "scaleBars"},
      "mark": {"type": "rule", "strokeWidth": 3},
      "encoding": {
        "x": {"field": "t", "type": "quantitative", "scale": {"domain": [-300, 1000], "nice": false, "zero": false}, "axis": null},
        "x2": {"field": "t2"},
        "y": {"field": "v", "type": "quantitative", "scale": {"domain": [-3.6225, 2.2125], "nice": false, "zero": false}, "axis": null},
        "y2": {"field": "v2"},
        "color": {"field": "series", "type": "nominal", "legend": null,
          "scale": {"domain": ["acceleration", "velocity", "position", "time"], "range": ["#c1272d", "#000000", "#0b7a3e", "#0b7a3e"]}}
      }
    },
    {
      "data": {"name": "scaleLabels"},
      "mark": {"type": "text", "font": "Liberation Sans", "fontSize": 28, "align": "left", "baseline": "alphabetic"},
      "encoding": {
        "x": {"field": "t", "type": "quantitative", "scale": {"domain": [-300, 1000], "nice": false, "zero": false}, "axis": null},
        "y": {"field": "v", "type": "quantitative", "scale": {"domain": [-3.6225, 2.2125], "nice": false, "zero": false}, "axis": null},
        "text": {"field": "label"},
        "color": {"field": "series", "type": "nominal", "legend": null,
          "scale": {"domain": ["acceleration", "velocity", "position", "time"], "range": ["#c1272d", "#000000", "#0b7a3e", "#0b7a3e"]}}
      }
    },
    {
      "data": {"values": [{"panel": "A", "t": -484, "v": 2.1725}]},
      "mark": {"type": "text", "font": "Liberation Sans", "fontSize": 28, "fontWeight": "bold", "align": "left", "baseline": "alphabetic", "color": "#000000"},
      "encoding": {
        "x": {"field": "t", "type": "quantitative", "scale": {"domain": [-300, 1000], "nice": false, "zero": false}, "axis": null},
        "y": {"field": "v", "type": "quantitative", "scale": {"domain": [-3.6225, 2.2125], "nice": false, "zero": false}, "axis": null},
        "text": {"field": "panel"}
      }
    },
    {
      "data": {"name": "correlation"},
      "mark": {"type": "area", "color": "#000000", "opacity": 0.22, "interpolate": "monotone"},
      "encoding": {
        "x": {"field": "o", "type": "quantitative", "scale": {"domain": [-100, 0], "nice": false, "zero": false},
          "axis": {"orient": "bottom", "title": "Offset between neural activity and behavior (ms)",
            "values": [-90, -80, -70, -60, -50, -40, -30, -20, -10, 0],
            "labelExpr": "format(datum.value, '~g')", "labelPadding": 13, "labelAlign": "center", "labelBaseline": "top",
            "labelFlush": true, "titleAngle": 0, "titleX": 329.5, "titleY": 64}},
        "y": {"field": "velLo", "type": "quantitative", "scale": {"domain": [-1, 4.806], "nice": false, "zero": false},
          "axis": {"orient": "left", "title": "Correlation coefficient",
            "values": [0.2, 0, -0.2, -0.4, -0.6, -0.8, -1],
            "labelExpr": "format(datum.value, '~g')", "labelPadding": 8, "labelAlign": "right", "labelBaseline": "middle",
            "titleAngle": 270, "titleX": -65.3, "titleY": 1044}},
        "y2": {"field": "velHi"}
      }
    },
    {
      "data": {"name": "correlation"},
      "mark": {"type": "area", "color": "#0b7a47", "opacity": 0.2, "interpolate": "monotone"},
      "encoding": {
        "x": {"field": "o", "type": "quantitative", "scale": {"domain": [-100, 0], "nice": false, "zero": false}, "axis": null},
        "y": {"field": "posLo", "type": "quantitative", "scale": {"domain": [-1, 4.806], "nice": false, "zero": false}, "axis": null},
        "y2": {"field": "posHi"}
      }
    },
    {
      "data": {"name": "correlation"},
      "mark": {"type": "area", "color": "#c1272d", "opacity": 0.2, "interpolate": "monotone"},
      "encoding": {
        "x": {"field": "o", "type": "quantitative", "scale": {"domain": [-100, 0], "nice": false, "zero": false}, "axis": null},
        "y": {"field": "accLo", "type": "quantitative", "scale": {"domain": [-1, 4.806], "nice": false, "zero": false}, "axis": null},
        "y2": {"field": "accHi"}
      }
    },
    {
      "data": {"values": [{}]},
      "mark": {"type": "rule", "color": "#000000", "strokeWidth": 1.2},
      "encoding": {
        "x": {"datum": -100, "type": "quantitative", "scale": {"domain": [-100, 0], "nice": false, "zero": false}, "axis": null},
        "x2": {"datum": 0},
        "y": {"datum": 0, "type": "quantitative", "scale": {"domain": [-1, 4.806], "nice": false, "zero": false}, "axis": null}
      }
    },
    {
      "data": {"name": "correlation"},
      "mark": {"type": "line", "color": "#c1272d", "strokeWidth": 1.2, "interpolate": "monotone"},
      "encoding": {
        "x": {"field": "o", "type": "quantitative", "scale": {"domain": [-100, 0], "nice": false, "zero": false}, "axis": null},
        "y": {"field": "acc", "type": "quantitative", "scale": {"domain": [-1, 4.806], "nice": false, "zero": false}, "axis": null}
      }
    },
    {
      "data": {"name": "correlation"},
      "mark": {"type": "line", "color": "#000000", "strokeWidth": 1.2, "interpolate": "monotone"},
      "encoding": {
        "x": {"field": "o", "type": "quantitative", "scale": {"domain": [-100, 0], "nice": false, "zero": false}, "axis": null},
        "y": {"field": "vel", "type": "quantitative", "scale": {"domain": [-1, 4.806], "nice": false, "zero": false}, "axis": null}
      }
    },
    {
      "data": {"name": "correlation"},
      "mark": {"type": "line", "color": "#0a6e3c", "strokeWidth": 1.2, "interpolate": "monotone"},
      "encoding": {
        "x": {"field": "o", "type": "quantitative", "scale": {"domain": [-100, 0], "nice": false, "zero": false}, "axis": null},
        "y": {"field": "pos", "type": "quantitative", "scale": {"domain": [-1, 4.806], "nice": false, "zero": false}, "axis": null}
      }
    },
    {
      "data": {"name": "peaks"},
      "mark": {"type": "point", "filled": true, "size": 85, "opacity": 1},
      "encoding": {
        "x": {"field": "o", "type": "quantitative", "scale": {"domain": [-100, 0], "nice": false, "zero": false}, "axis": null},
        "y": {"field": "r", "type": "quantitative", "scale": {"domain": [-1, 4.806], "nice": false, "zero": false}, "axis": null},
        "color": {"field": "series", "type": "nominal", "legend": null,
          "scale": {"domain": ["acceleration", "velocity", "position"], "range": ["#a8282d", "#000000", "#0a5e33"]}}
      }
    },
    {
      "data": {"name": "seriesLabels"},
      "mark": {"type": "text", "font": "Liberation Sans", "fontSize": 28, "align": "left", "baseline": "alphabetic"},
      "encoding": {
        "x": {"field": "o", "type": "quantitative", "scale": {"domain": [-100, 0], "nice": false, "zero": false}, "axis": null},
        "y": {"field": "r", "type": "quantitative", "scale": {"domain": [-1, 4.806], "nice": false, "zero": false}, "axis": null},
        "text": {"field": "label"},
        "color": {"field": "series", "type": "nominal", "legend": null,
          "scale": {"domain": ["acceleration", "velocity", "position"], "range": ["#c1272d", "#000000", "#0b7340"]}}
      }
    },
    {
      "data": {"values": [{}]},
      "mark": {"type": "rule", "color": "#111111", "strokeWidth": 3.2, "strokeCap": "square"},
      "encoding": {
        "x": {"datum": -100, "type": "quantitative", "scale": {"domain": [-100, 0], "nice": false, "zero": false}, "axis": null},
        "y": {"datum": -1, "type": "quantitative", "scale": {"domain": [-1, 4.806], "nice": false, "zero": false}, "axis": null},
        "y2": {"datum": 0.2}
      }
    },
    {
      "data": {"values": [{}]},
      "mark": {"type": "rule", "color": "#111111", "strokeWidth": 3.2, "strokeCap": "square"},
      "encoding": {
        "x": {"datum": -100, "type": "quantitative", "scale": {"domain": [-100, 0], "nice": false, "zero": false}, "axis": null},
        "x2": {"datum": 0},
        "y": {"datum": -1, "type": "quantitative", "scale": {"domain": [-1, 4.806], "nice": false, "zero": false}, "axis": null}
      }
    },
    {
      "data": {"values": [{"r": 0.2}, {"r": -0.2}, {"r": -0.4}, {"r": -0.6}, {"r": -0.8}]},
      "mark": {"type": "tick", "orient": "horizontal", "color": "#111111", "thickness": 2, "xOffset": 3, "opacity": 1},
      "encoding": {
        "x": {"datum": -100, "type": "quantitative", "scale": {"domain": [-100, 0], "nice": false, "zero": false}, "axis": null},
        "y": {"field": "r", "type": "quantitative", "scale": {"domain": [-1, 4.806], "nice": false, "zero": false}, "axis": null},
        "size": {"value": 6}
      }
    },
    {
      "data": {"values": [{"o": -90}, {"o": -80}, {"o": -70}, {"o": -60}, {"o": -50}, {"o": -40}, {"o": -30}, {"o": -20}, {"o": -10}, {"o": 0}]},
      "mark": {"type": "tick", "orient": "vertical", "color": "#111111", "thickness": 2, "yOffset": -3, "opacity": 1},
      "encoding": {
        "x": {"field": "o", "type": "quantitative", "scale": {"domain": [-100, 0], "nice": false, "zero": false}, "axis": null},
        "y": {"datum": -1, "type": "quantitative", "scale": {"domain": [-1, 4.806], "nice": false, "zero": false}, "axis": null},
        "size": {"value": 6}
      }
    },
    {
      "data": {"values": [{"panel": "C", "o": -114.4, "r": 0.478}]},
      "mark": {"type": "text", "font": "Liberation Sans", "fontSize": 28, "fontWeight": "bold", "align": "left", "baseline": "alphabetic", "color": "#000000"},
      "encoding": {
        "x": {"field": "o", "type": "quantitative", "scale": {"domain": [-100, 0], "nice": false, "zero": false}, "axis": null},
        "y": {"field": "r", "type": "quantitative", "scale": {"domain": [-1, 4.806], "nice": false, "zero": false}, "axis": null},
        "text": {"field": "panel"}
      }
    }
  ]
}
